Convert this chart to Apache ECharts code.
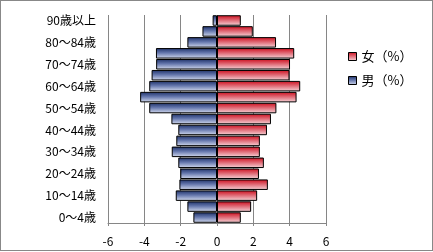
<!DOCTYPE html>
<html>
<head>
<meta charset="utf-8">
<script src="https://cdn.jsdelivr.net/npm/echarts@6/dist/echarts.min.js"></script>
<style>
html,body{margin:0;padding:0;background:#fff;}
#wrap{position:absolute;left:0;top:0;width:431px;height:249px;border:1px solid #888;}
#c{width:431px;height:249px;}
</style>
</head>
<body>
<div id="wrap"><div id="c"></div></div>
<script>
var categories = ['0～4歳','5～9歳','10～14歳','15～19歳','20～24歳','25～29歳','30～34歳','35～39歳','40～44歳','45～49歳','50～54歳','55～59歳','60～64歳','65～69歳','70～74歳','75～79歳','80～84歳','85～89歳','90歳以上'];
var male = [-1.30,-1.63,-2.27,-2.07,-2.02,-2.13,-2.49,-2.24,-2.13,-2.51,-3.73,-4.23,-3.73,-3.60,-3.35,-3.36,-1.63,-0.80,-0.24];
var female = [1.31,1.88,2.21,2.80,2.31,2.58,2.36,2.36,2.75,2.97,3.27,4.38,4.58,3.99,4.02,4.25,3.25,1.97,1.31];
var xTicks = [-6,-4,-2,0,2,4,6];

var FONT = '"Noto Sans CJK JP", sans-serif';
var chart = echarts.init(document.getElementById('c'));
function grad(top, mid, bottom){
  return new echarts.graphic.LinearGradient(0,0,0,1,[
    {offset:0,color:top},{offset:0.45,color:mid},{offset:1,color:bottom}]);
}
chart.setOption({
  animation:false,
  backgroundColor:'#fff',
  legend:{
    orient:'vertical', left:342, top:44, itemGap:11,
    itemWidth:8, itemHeight:8, icon:'rect', itemStyle:{borderColor:'#000',borderWidth:1},
    textStyle:{fontFamily:FONT,fontSize:13,color:'#000'},
    data:['女（%）','男（%）']
  },
  grid:{left:107, right:106, top:14, bottom:27, containLabel:false},
  xAxis:{
    type:'value', min:xTicks[0], max:xTicks[xTicks.length-1], interval:2,
    axisLine:{show:true,onZero:false,lineStyle:{color:'#868686'}},
    axisTick:{show:true,length:3,lineStyle:{color:'#868686'}},
    axisLabel:{fontFamily:FONT,fontSize:12,color:'#000',margin:12},
    splitLine:{show:true,lineStyle:{color:['#868686','#868686','#868686','#444','#868686','#868686','#868686'],width:1}}
  },
  yAxis:{
    type:'category', data:categories,
    axisLine:{show:false}, axisTick:{show:false},
    axisLabel:{interval:1,fontFamily:FONT,fontSize:12,color:'#000',margin:12}
  },
  series:[
    {name:'男（%）', type:'bar', stack:'p', data:male, barCategoryGap:'4%',
     itemStyle:{color:grad('#1c2f66','#6476ac','#d6ddf0'),borderColor:'#000',borderWidth:1}},
    {name:'女（%）', type:'bar', stack:'p', data:female, barCategoryGap:'4%',
     itemStyle:{color:grad('#cc0c1c','#df6672','#f6d6da'),borderColor:'#000',borderWidth:1}}
  ]
});
</script>
</body>
</html>
